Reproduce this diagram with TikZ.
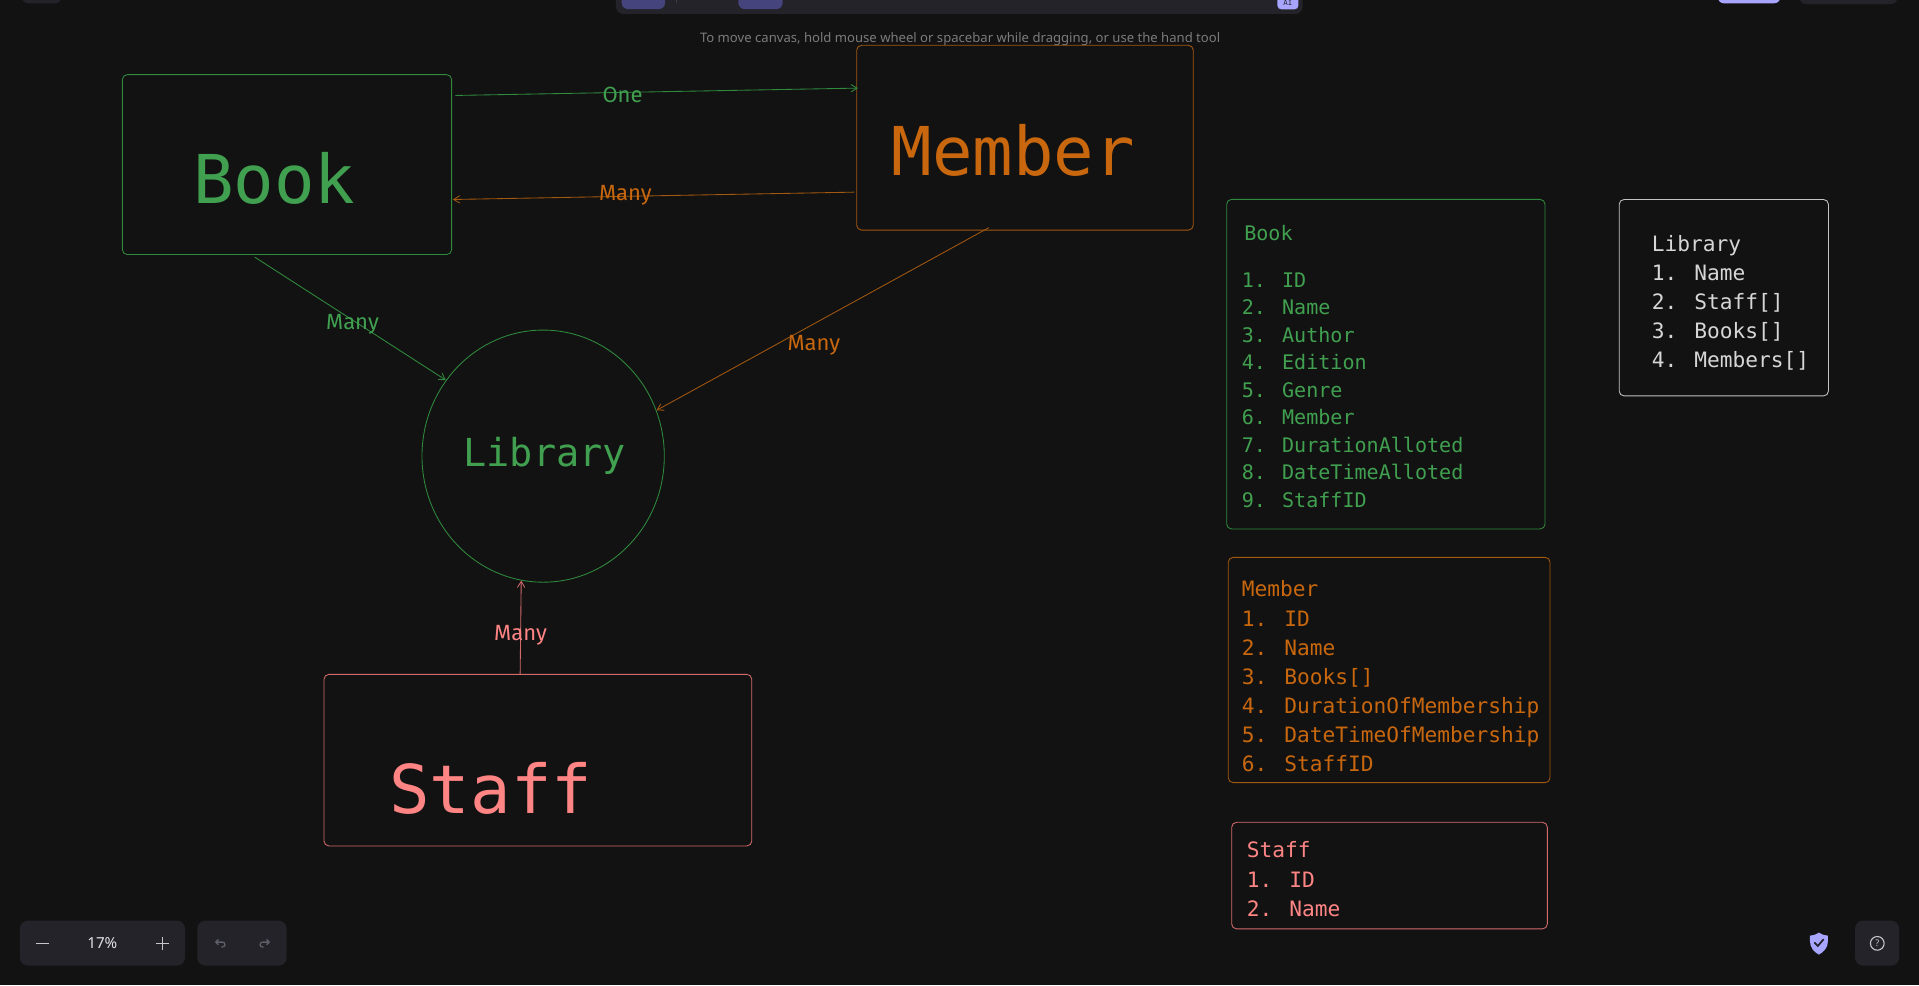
\documentclass[tikz,border=0pt]{standalone}
\usepackage{fontspec}
\usetikzlibrary{arrows.meta,shapes.geometric}
\newfontfamily\monof{DejaVu Sans Mono}
\newfontfamily\handf{Fira Sans}
\newfontfamily\uif{Noto Sans}
\definecolor{bg}{HTML}{121212}
\definecolor{panel}{HTML}{232329}
\definecolor{pill}{HTML}{45447C}
\definecolor{sep}{HTML}{3A3A42}
\definecolor{lav}{HTML}{A8A5FF}
\definecolor{grnT}{HTML}{40A050}
\definecolor{grnB}{HTML}{2F8A3E}
\definecolor{orgT}{HTML}{C8670E}
\definecolor{orgB}{HTML}{A3580F}
\definecolor{redT}{HTML}{FF8585}
\definecolor{redB}{HTML}{D46A6A}
\definecolor{gryT}{HTML}{D6D6D6}
\definecolor{gryB}{HTML}{C4C4C4}
\definecolor{hint}{HTML}{7B7B7B}
\definecolor{uitext}{HTML}{E2E2E8}
\definecolor{uiicon}{HTML}{C6C6CE}
\definecolor{uidis}{HTML}{5E5E68}
\begin{document}
\begin{tikzpicture}[x=1pt,y=-1pt,
  box/.style={draw, rounded corners=4pt, line width=0.7pt, inner sep=0pt},
  conn/.style={line width=0.7pt, -{Straight Barb[length=5pt,width=6pt]}},
  lbl/.style={font=\handf\fontsize{18}{20}\selectfont, anchor=base, inner sep=0pt},
  big/.style={font=\monof\fontsize{55}{60}\selectfont, anchor=base, inner sep=0pt},
  listA/.style={font=\monof\fontsize{16.4}{20}\selectfont, anchor=base west, inner sep=0pt},
  listB/.style={font=\monof\fontsize{17.3}{20}\selectfont, anchor=base west, inner sep=0pt},
  uipanel/.style={fill=panel, rounded corners=6.5pt},
]
\useasboundingbox (0,0) rectangle (1568,805);
\clip (0,0) rectangle (1568,805);
\fill[bg] (0,0) rectangle (1568,805);

% ---------- top UI ----------
\fill[panel, rounded corners=5pt] (18,-12) rectangle (50,2.7);
\fill[panel, rounded corners=6pt] (503.3,-12) rectangle (1064.3,11.4);
\fill[pill, rounded corners=5pt] (508,-12) rectangle (543.4,7.4);
\fill[pill, rounded corners=5pt] (603.3,-12) rectangle (639.5,7.4);
\draw[sep, line width=0.6pt] (552.9,0) -- (552.9,2.5);
\fill[lav, rounded corners=3pt] (1043.8,-8) rectangle (1060.9,7.6);
\node[font=\monof\fontsize{6}{7}\selectfont, text=panel, inner sep=0] (aibadge) at (1052.3,2.6) {AI};
\fill[lav, rounded corners=5pt] (1403.6,-12) rectangle (1454.7,2.7);
\fill[panel, rounded corners=5pt] (1470.5,-12) rectangle (1550.3,3.3);

\node[text=hint, inner sep=0] (hinttext) at (784.5,32)
  {\resizebox{425pt}{!}{\uif\fontsize{11}{13}\selectfont To move canvas, hold mouse wheel or spacebar while dragging, or use the hand tool}};

% ---------- main nodes ----------
\node[box, draw=grnB, minimum width=269pt, minimum height=147pt] (bookbox) at (234.5,134.5) {};
\node[big, text=grnT] (booktxt) at (224,166) {Book};

\node[box, draw=orgB, minimum width=275pt, minimum height=151pt] (memberbox) at (837.5,112.5) {};
\node[big, text=orgT] (membertxt) at (828,143) {Member};

\node[ellipse, draw=grnB, line width=0.7pt, minimum width=198pt, minimum height=206pt, inner sep=0pt] (lib) at (443.8,372.7) {};
\node[font=\monof\fontsize{31.5}{34}\selectfont, text=grnT, anchor=base, inner sep=0] (libtxt) at (445,381) {Library};

\node[box, draw=redB, minimum width=349.5pt, minimum height=140.2pt] (staffbox) at (439.5,621.1) {};
\node[big, text=redT] (stafftxt) at (401,664.6) {Staff};

% ---------- connectors ----------
\coordinate (oneS) at (372,78);
\coordinate (oneE) at (701,72);
\coordinate (manyS) at (698,157);
\coordinate (manyE) at (370,163);
\coordinate (gS) at (208,210);
\coordinate (oS) at (808,186);
\coordinate (rS) at (425,551);

\draw[conn, grnB] (oneS) -- (oneE);
\draw[conn, orgB] (manyS) -- (manyE);
\draw[conn, grnB] (gS) -- (lib.142.6);
\draw[conn, orgB] (oS) -- (lib.22.7);
\draw[conn, redB] (rS) -- (lib.260.5);

\node[lbl, text=grnT] (lblone) at (508.7,84) {One};
\node[lbl, text=orgT] (lblmany1) at (511,164) {Many};
\node[lbl, text=grnT] (lblmany2) at (288,269) {Many};
\node[lbl, text=orgT] (lblmany3) at (665,286) {Many};
\node[lbl, text=redT] (lblmany4) at (425.3,523.7) {Many};

% ---------- list boxes ----------
\node[box, draw=grnB, minimum width=260.1pt, minimum height=269.3pt] (booklist) at (1132.35,297.55) {};
\node[listA, text=grnT] (blh) at (1016.5,196.7) {Book};
\foreach \t [count=\i from 0] in {1. ID,2. Name,3. Author,4. Edition,5. Genre,6. Member,7. DurationAlloted,8. DateTimeAlloted,9. StaffID}
  \node[listA, text=grnT] (bl\i) at (1014.5,234.8+22.47*\i) {\t};

\node[box, draw=orgB, minimum width=262.9pt, minimum height=184.1pt] (memberlist) at (1135.05,547.45) {};
\foreach \t [count=\i from 0] in {Member,1. ID,2. Name,3. Books[],4. DurationOfMembership,5. DateTimeOfMembership,6. StaffID}
  \node[listB, text=orgT] (ml\i) at (1014.5,487.8+23.7*\i) {\t};

\node[box, draw=gryB, minimum width=171pt, minimum height=160.5pt] (liblist) at (1408.5,243.25) {};
\foreach \t [count=\i from 0] in {Library,1. Name,2. Staff[],3. Books[],4. Members[]}
  \node[listB, text=gryT] (ll\i) at (1349.5,205.1+23.8*\i) {\t};

\node[box, draw=redB, minimum width=257.9pt, minimum height=87.1pt] (stafflist) at (1135.35,715.45) {};
\foreach \t [count=\i from 0] in {Staff,1. ID,2. Name}
  \node[listB, text=redT] (sl\i) at (1018.6,700.8+24.2*\i) {\t};

% ---------- bottom UI ----------
\fill[uipanel] (16.3,752.3) rectangle (151.2,789);
\draw[uiicon, line width=1.2pt] (29.7,770.8) -- (40.1,770.8);
\draw[uiicon, line width=1.2pt] (127.7,770.8) -- (138.1,770.8) (132.9,765.6) -- (132.9,776);
\node[font=\uif\fontsize{12.4}{14}\selectfont, text=uitext, inner sep=0] (zoompct) at (83.6,770.8) {17\%};

\fill[uipanel] (161.2,752.3) rectangle (234.2,789);
\begin{scope}[shift={(179.8,770.8)}, scale=0.5]
  \draw[uidis, line width=1.1pt, line cap=round, line join=round]
    (-3,2) -- (-7,-2) -- (-3,-6) (-7,-2) -- (4,-2) arc[start angle=-90, end angle=90, radius=4] -- (3,6);
\end{scope}
\begin{scope}[shift={(216.5,770.8)}, xscale=-0.5, yscale=0.5]
  \draw[uidis, line width=1.1pt, line cap=round, line join=round]
    (-3,2) -- (-7,-2) -- (-3,-6) (-7,-2) -- (4,-2) arc[start angle=-90, end angle=90, radius=4] -- (3,6);
\end{scope}

\fill[lav] (1486.2,762) .. controls (1489,763.8) and (1491.5,764.5) .. (1493.6,764.5) -- (1493.6,769)
  .. controls (1493.6,774.5) and (1490,778) .. (1486.2,780)
  .. controls (1482.4,778) and (1478.9,774.5) .. (1478.9,769) -- (1478.9,764.5)
  .. controls (1481,764.5) and (1483.4,763.8) .. (1486.2,762) -- cycle;
\draw[panel, line width=1.4pt, line cap=round, line join=round] (1482.7,770.3) -- (1485.3,773) -- (1489.9,767.6);

\fill[uipanel] (1515.7,752.3) rectangle (1551.8,789);
\draw[uiicon, line width=0.9pt] (1533.9,770.8) circle[radius=5.6];
\node[font=\uif\bfseries\fontsize{7.5}{8}\selectfont, text=uiicon, inner sep=0] (helpq) at (1533.9,771) {?};
\end{tikzpicture}
\end{document}
